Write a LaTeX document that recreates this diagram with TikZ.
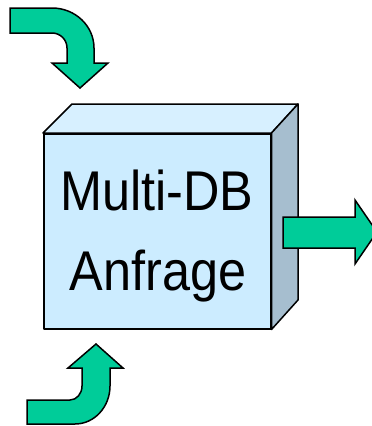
\documentclass[tikz,border=0pt]{standalone}
\usepackage{fontspec}
\setmainfont{Liberation Sans}
\newfontfamily\boxfont[FakeStretch=0.9]{Liberation Sans}
\definecolor{frontc}{HTML}{CCECFF}
\definecolor{topc}{HTML}{D7F0FF}
\definecolor{sidec}{HTML}{A6BECF}
\definecolor{arrowc}{HTML}{00CC99}
\begin{document}
\begin{tikzpicture}[x=1pt,y=-1pt,
  face/.style={draw=black,line width=1.5pt,line join=round},
  greenarrow/.style={draw=black,fill=arrowc,line width=1.5pt,line join=miter},
  boxtext/.style={font=\boxfont\fontsize{56}{66}\selectfont,inner sep=0pt,anchor=base}]
\useasboundingbox (0,0) rectangle (372,426);
% box
\node[face,fill=frontc,minimum width=227pt,minimum height=195pt,inner sep=0pt,anchor=north west] (box) at (43,133) {};
\coordinate (tl) at (72,104);
\coordinate (tr) at (298,104);
\coordinate (br) at (298,300);
\draw[face,fill=topc] (box.north west) -- (tl) -- (tr) -- (box.north east) -- cycle;
\draw[face,fill=sidec] (box.north east) -- (tr) -- (br) -- (box.south east) -- cycle;
\node[boxtext] (t1) at (157,210) {Multi-DB};
\node[boxtext] (t2) at (158,290) {Anfrage};
% right arrow
\draw[greenarrow] (283,217) -- (355,217) -- (355,200) -- (377,232) -- (355,264) -- (355,248) -- (283,248) -- cycle;
% top-left curved arrow
\draw[greenarrow] (10,8) -- (52,8) .. controls (75.2,8) and (94,25.9) .. (94,48)
  -- (94,63) -- (108,63) -- (80,88) -- (52,63) -- (67,63) -- (67,48)
  .. controls (67,39.7) and (60.3,33) .. (52,33) -- (10,33) -- cycle;
% bottom curved arrow
\draw[greenarrow] (27,400) -- (70,400) .. controls (76.6,400) and (82,393.7) .. (82,386)
  -- (82,368) -- (68,368) -- (96,344) -- (123,368) -- (110,368) -- (110,386)
  .. controls (110,407) and (94.3,424) .. (75,424) -- (27,424) -- cycle;
\end{tikzpicture}
\end{document}
